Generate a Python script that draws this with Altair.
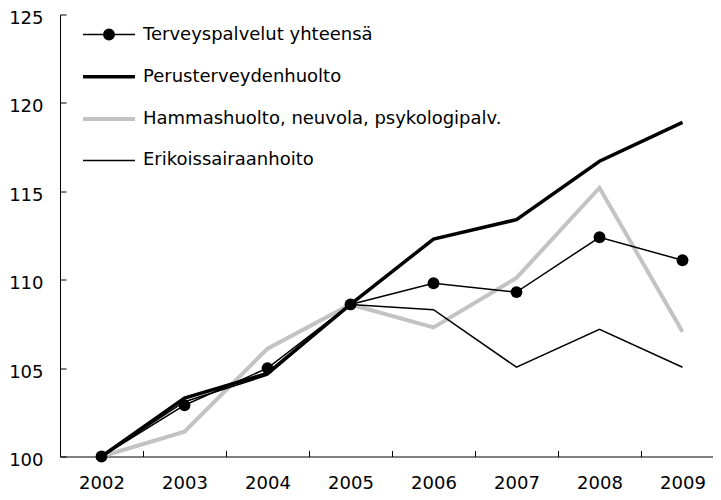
import altair as alt
import pandas as pd

years = [2002, 2003, 2004, 2005, 2006, 2007, 2008, 2009]
series_names = [
    "Terveyspalvelut yhteensä",
    "Perusterveydenhuolto",
    "Hammashuolto, neuvola, psykologipalv.",
    "Erikoissairaanhoito",
]
terveys = [100, 102.9, 105.0, 108.6, 109.8, 109.3, 112.4, 111.1]
perus = [100, 103.3, 104.7, 108.6, 112.3, 113.4, 116.7, 118.9]
hammas = [100, 101.4, 106.1, 108.6, 107.3, 110.1, 115.2, 107.05]
erikois = [100, 103.1, 104.6, 108.6, 108.3, 105.05, 107.2, 105.05]

series_colors = ["black", "black", "#c3c3c3", "black"]
series_widths = [1.5, 3.5, 4, 1.5]
legend_shapes = [
    "M-1,0L1,0M0.2,0A0.2,0.2,0,1,1,-0.2,0A0.2,0.2,0,1,1,0.2,0Z",
    "M-1,0L1,0",
    "M-1,0L1,0",
    "M-1,0L1,0",
]
y_ticks = [100, 105, 110, 115, 120, 125]

# drawing order: grey first, then thin, thick, total on top
draw_order = [
    (series_names[2], hammas),
    (series_names[3], erikois),
    (series_names[1], perus),
    (series_names[0], terveys),
]
rows = []
for name, vals in draw_order:
    for yr, v in zip(years, vals):
        rows.append({"year": yr, "series": name, "value": v})
df = pd.DataFrame(rows)

x_enc = alt.X(
    "year:O",
    title=None,
    bandPosition=0.5,
    scale=alt.Scale(type="band", paddingInner=0, paddingOuter=0),
    axis=alt.Axis(
        labelAngle=0,
        tickBand="extent",
        tickSize=alt.ExprRef(expr="-6"),
        labelPadding=24,
    ),
)
y_enc = alt.Y(
    "value:Q",
    title=None,
    scale=alt.Scale(domain=[100, 125], nice=False, zero=False),
    axis=alt.Axis(
        values=y_ticks,
        tickSize=alt.ExprRef(expr="-6"),
        labelPadding=23,
        labelOffset=4,
    ),
)
color_enc = alt.Color(
    "series:N", title=None, scale=alt.Scale(domain=series_names, range=series_colors)
)
width_enc = alt.StrokeWidth(
    "series:N",
    title=None,
    scale=alt.Scale(type="ordinal", domain=series_names, range=series_widths),
)

lines = alt.Chart(df).mark_line().encode(
    x=x_enc, y=y_enc, color=color_enc, strokeWidth=width_enc
)

dots = (
    alt.Chart(df)
    .transform_filter(alt.datum.series == series_names[0])
    .mark_point(filled=True, color="black", size=140, opacity=1)
    .encode(x=x_enc, y=y_enc)
)

legend_layer = (
    alt.Chart(df)
    .transform_filter("false")
    .mark_point(filled=True, opacity=1)
    .encode(
        x=x_enc,
        y=y_enc,
        color=color_enc,
        strokeWidth=width_enc,
        shape=alt.Shape(
            "series:N", title=None, scale=alt.Scale(domain=series_names, range=legend_shapes)
        ),
    )
)

chart = (
    alt.layer(lines, dots, legend_layer)
    .properties(
        width=664,
        height=442,
        autosize=alt.AutoSizeParams(type="none"),
        padding={"left": 52, "top": 6.5, "right": -11, "bottom": 35.5},
    )
    .configure_view(stroke=None)
    .configure_axis(
        labelFont="DejaVu Sans",
        labelFontSize=18,
        labelColor="black",
        domainColor="black",
        tickColor="black",
        domainWidth=1,
        tickWidth=1,
        grid=False,
    )
    .configure_legend(
        orient="none",
        legendX=21,
        legendY=-7,
        padding=0,
        symbolSize=2704,
        labelFont="DejaVu Sans",
        labelFontSize=18,
        labelColor="black",
        labelOffset=6,
        rowPadding=5.3,
        labelLimit=0,
    )
)

chart.save("out.html", embed_options={"renderer": "svg", "actions": False})
